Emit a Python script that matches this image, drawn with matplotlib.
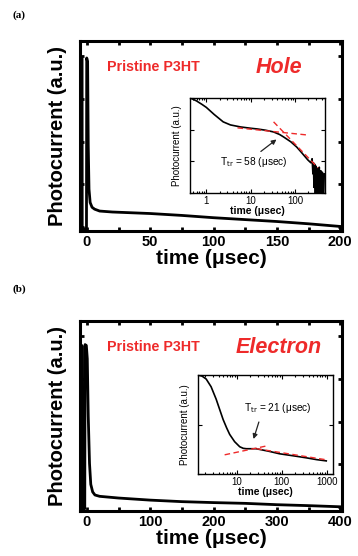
import numpy as np
import matplotlib
matplotlib.use("Agg")
import matplotlib.pyplot as plt
from matplotlib.ticker import MultipleLocator, LogLocator, NullFormatter, NullLocator

plt.rcParams['font.family'] = ['Liberation Sans', 'DejaVu Sans']

# (a) hole transient, linear time axis
hole_t = [-5.5, -4.2, -4.1, -4.0, -3.8, -0.4, -0.2, 0.5, 1.0, 1.6, 2.5, 4, 6, 10, 20, 35,
          50, 75, 100, 125, 150, 175, 200]
hole_i = [0.012, 0.012, 0.91, 0.91, 0.012, 0.012, 0.91, 0.89, 0.45, 0.22, 0.15, 0.125, 0.115,
          0.105, 0.10, 0.096, 0.092, 0.082, 0.07, 0.06, 0.05, 0.038, 0.024]
# (a) inset, log-log
hole_log_t = [0.43, 0.6, 0.8, 1.0, 1.5, 2.4, 3.5, 5.9, 10, 14.4, 22, 33, 45, 56, 81, 110,
              137, 196, 230, 245, 255, 262, 270, 280, 290, 300, 312, 325, 340, 355, 370,
              385, 400, 420, 440, 460]
hole_log_i = [1.0, 0.8, 0.62, 0.5, 0.3, 0.175, 0.14, 0.121, 0.11, 0.104, 0.095, 0.084, 0.07,
              0.058, 0.041, 0.028, 0.0198, 0.011, 0.0089, 0.012, 0.004, 0.009, 0.0015, 0.008,
              0.0008, 0.007, 0.0006, 0.006, 0.0005, 0.0065, 0.0004, 0.005, 0.0004, 0.0045,
              0.0004, 0.004]
hole_fit1_t, hole_fit1_i = [5.06, 178], [0.113, 0.068]
hole_fit2_t, hole_fit2_i = [33, 333], [0.175, 0.0062]
hole_ttr = 58

# (b) electron transient, linear time axis
elec_t = [-11, -8.2, -8.0, -7.8, -3.5, -3.0, -1.0, 0.5, 2, 4, 6, 9, 12.6, 20, 50, 100, 150,
          200, 250, 300, 350, 400]
elec_i = [0.012, 0.012, 0.87, 0.012, 0.012, 0.875, 0.87, 0.8, 0.5, 0.25, 0.14, 0.1, 0.084,
          0.077, 0.068, 0.057, 0.049, 0.044, 0.04, 0.033, 0.028, 0.022]
# (b) inset, log-log
elec_log_t = [1.38, 1.7, 2.1, 2.7, 3.5, 4.2, 5.0, 6.0, 7.0, 9.0, 11.7, 14, 16.4, 27, 50, 90,
              200, 355, 600, 980]
elec_log_i = [1.0, 0.95, 0.83, 0.58, 0.325, 0.2, 0.126, 0.085, 0.063, 0.045, 0.0355, 0.033,
              0.0324, 0.0324, 0.029, 0.0256, 0.023, 0.0212, 0.0195, 0.0184]
elec_fit1_t, elec_fit1_i = [5.4, 48.9], [0.0244, 0.0373]
elec_fit2_t, elec_fit2_i = [27.8, 1000], [0.0324, 0.0193]
elec_ttr = 21

RED = '#ee2a2a'

fig = plt.figure(figsize=(3.58, 5.56), dpi=100)


def main_axes(rect, t, i, xlim, major, minor, carrier):
    ax = fig.add_axes(rect)
    ax.plot(t, i, color='black', lw=2.0, solid_joinstyle='round')
    ax.set_xlim(*xlim)
    ax.set_ylim(0, 1)
    ax.xaxis.set_major_locator(MultipleLocator(major))
    ax.xaxis.set_minor_locator(MultipleLocator(minor))
    ax.set_yticks([0.02, 0.245, 0.47, 0.695, 0.92])
    ax.set_yticklabels([])
    for s in ax.spines.values():
        s.set_linewidth(2.2)
    ax.tick_params(which='both', direction='in', top=True, right=True, width=2, length=3)
    ax.tick_params(axis='x', labelsize=10.5, pad=3)
    for lb in ax.get_xticklabels():
        lb.set_fontweight('bold')
    ax.set_xlabel('time (\u03bcsec)', fontsize=15, fontweight='bold', labelpad=0)
    ax.set_ylabel('Photocurrent (a.u.)', fontsize=14.5, fontweight='bold', labelpad=6)
    ax.text(0.28, 0.86, 'Pristine P3HT', transform=ax.transAxes, color=RED,
            fontsize=10.3, fontweight='bold', ha='center', va='center')
    ax.text(0.76, 0.86, carrier, transform=ax.transAxes, color=RED, fontsize=15.5,
            fontweight='bold', fontstyle='italic', ha='center', va='center')
    return ax


def inset_axes(rect, t, i, xlim, ylim, fits, ttr, arrow, ticks):
    ax = fig.add_axes(rect)
    ax.set_xscale('log')
    ax.set_yscale('log')
    ax.plot(t, i, color='black', lw=1.2)
    for ft, fi in fits:
        ax.plot(ft, fi, color=RED, lw=1.0, ls=(0, (4, 2.5)))
    ax.set_xlim(*xlim)
    ax.set_ylim(*ylim)
    ax.set_xticks(ticks)
    ax.set_xticklabels([str(v) for v in ticks])
    ax.xaxis.set_minor_locator(LogLocator(subs=np.arange(2, 10)))
    ax.xaxis.set_minor_formatter(NullFormatter())
    ax.yaxis.set_minor_locator(NullLocator())
    ax.yaxis.set_major_formatter(NullFormatter())
    for s in ax.spines.values():
        s.set_linewidth(1.0)
    ax.tick_params(which='both', direction='in', top=True, right=True, width=0.8)
    ax.tick_params(which='major', length=3)
    ax.tick_params(which='minor', length=1.5)
    ax.tick_params(axis='x', labelsize=7, pad=2)
    ax.set_xlabel('time (\u03bcsec)', fontsize=7.5, fontweight='bold', labelpad=0)
    ax.set_ylabel('Photocurrent (a.u.)', fontsize=7, labelpad=2)
    (tx, ty), (hx, hy), (lx, ly) = arrow
    ax.annotate('', xy=(hx, hy), xytext=(tx, ty),
                arrowprops=dict(arrowstyle='-|>', color='#222222', lw=0.9,
                                mutation_scale=7))
    ax.text(lx, ly, 'T$_{\\mathrm{tr}}$ = %d (\u03bcsec)' % ttr, fontsize=7.3,
            ha='center', va='center')
    return ax


fig.text(0.034, 0.968, '(a)', family='Liberation Serif', fontweight='bold', fontsize=8)
fig.text(0.034, 0.475, '(b)', family='Liberation Serif', fontweight='bold', fontsize=8)

main_axes([0.2235, 0.5845, 0.732, 0.342], hole_t, hole_i, (-5.5, 201.5), 50, 25, 'Hole')
inset_axes([0.531, 0.653, 0.377, 0.171], hole_log_t, hole_log_i, (0.43, 480), (1e-3, 1),
           [(hole_fit1_t, hole_fit1_i), (hole_fit2_t, hole_fit2_i)], hole_ttr,
           ((15.2, 0.018), (43, 0.055), (11.7, 0.0095)), [1, 10, 100])

main_axes([0.2235, 0.081, 0.732, 0.342], elec_t, elec_i, (-11, 403), 100, 50, 'Electron')
inset_axes([0.553, 0.1475, 0.377, 0.178], elec_log_t, elec_log_i, (1.38, 1380), (0.01, 1),
           [(elec_fit1_t, elec_fit1_i), (elec_fit2_t, elec_fit2_i)], elec_ttr,
           ((32.5, 0.127), (22.7, 0.045), (81.4, 0.22)), [10, 100, 1000])

fig.savefig('out.png', dpi=100)
